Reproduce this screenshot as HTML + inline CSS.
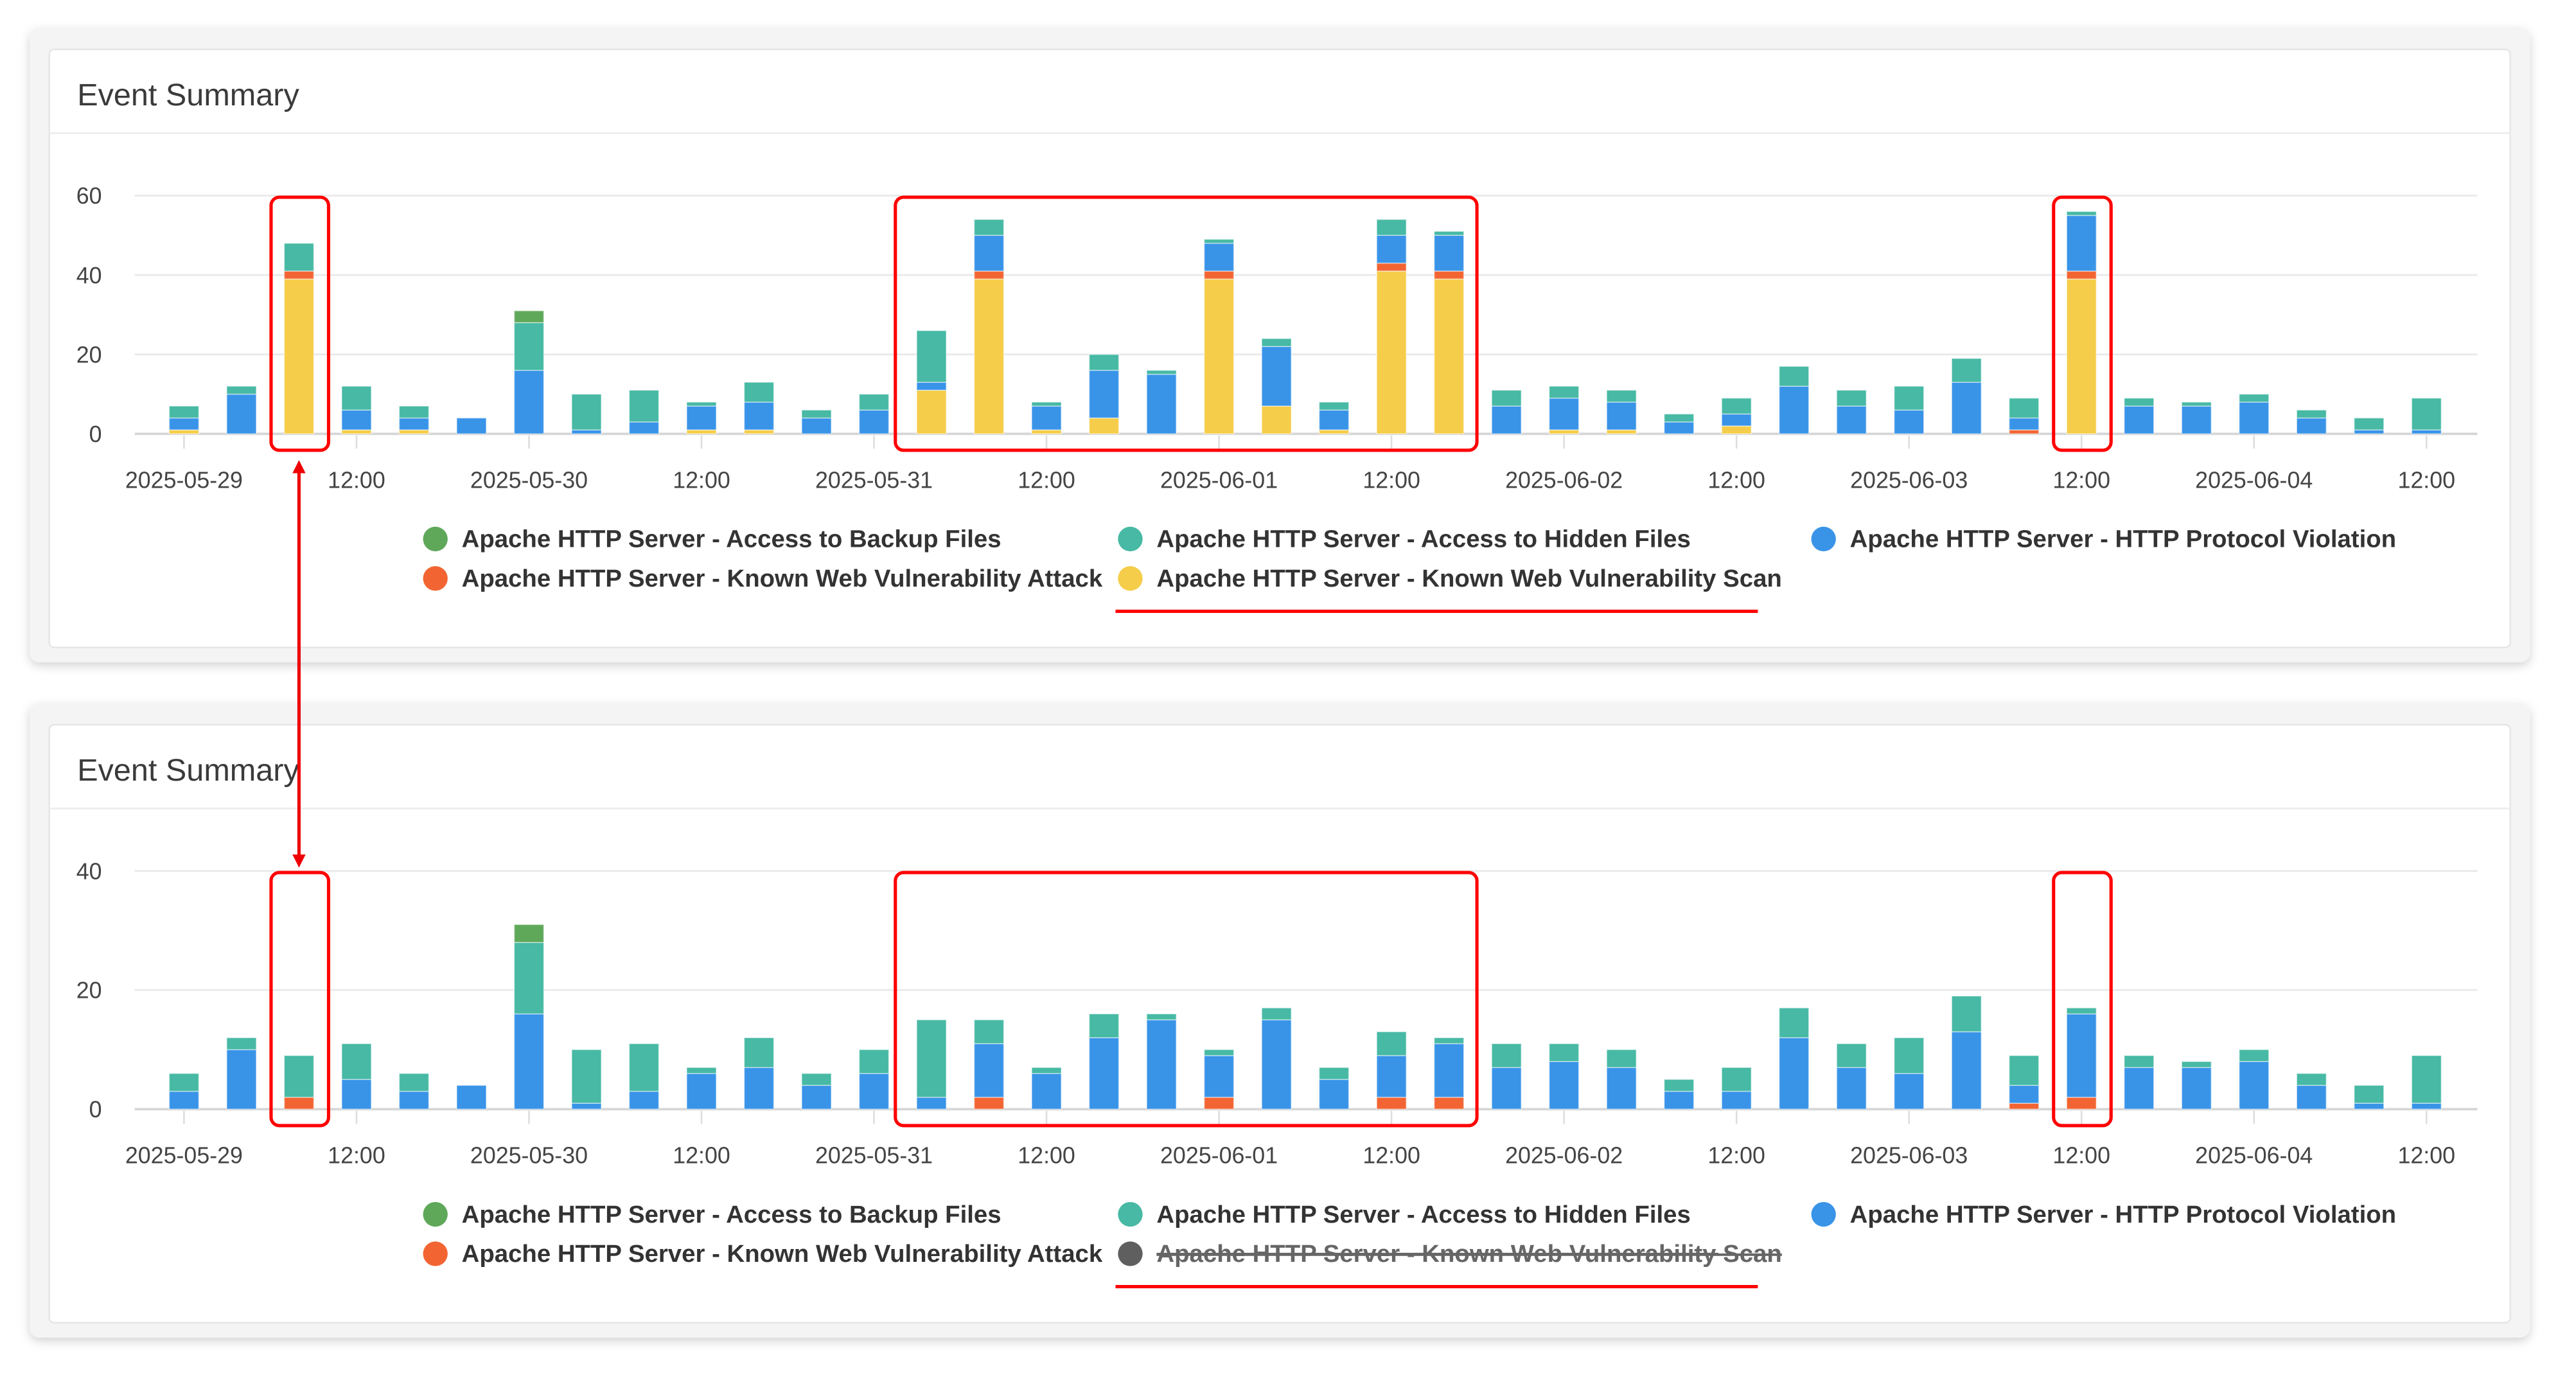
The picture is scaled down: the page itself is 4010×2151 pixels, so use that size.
<!DOCTYPE html>
<html><head><meta charset="utf-8"><style>
html,body{margin:0;padding:0;background:#fff;}
svg{display:block;font-family:"Liberation Sans",sans-serif;}
</style></head><body>
<svg id="root" width="4010" height="2151" viewBox="0 0 1568 841" xmlns="http://www.w3.org/2000/svg">
<defs>
<filter id="sh" x="-5%" y="-10%" width="110%" height="120%"><feDropShadow dx="0" dy="2" stdDeviation="3" flood-color="#000" flood-opacity="0.18"/></filter>
<marker id="ah" markerWidth="8" markerHeight="8" refX="4" refY="4" orient="auto-start-reverse" markerUnits="userSpaceOnUse"><path d="M0,0 L8,4 L0,8 z" fill="#e00"/></marker>
</defs>
<g id="panels"></g>
<g id="ann">
<rect x="165" y="120" width="35" height="154" rx="5" fill="none" stroke="#f00" stroke-width="2"/>
<rect x="545" y="120" width="354" height="154" rx="5" fill="none" stroke="#f00" stroke-width="2"/>
<rect x="1250" y="120" width="35" height="154" rx="5" fill="none" stroke="#f00" stroke-width="2"/>
<line x1="679" y1="372" x2="1070" y2="372" stroke="#f00" stroke-width="2"/>
<rect x="165" y="531" width="35" height="154" rx="5" fill="none" stroke="#f00" stroke-width="2"/>
<rect x="545" y="531" width="354" height="154" rx="5" fill="none" stroke="#f00" stroke-width="2"/>
<rect x="1250" y="531" width="35" height="154" rx="5" fill="none" stroke="#f00" stroke-width="2"/>
<line x1="679" y1="783" x2="1070" y2="783" stroke="#f00" stroke-width="2"/>
<line x1="182" y1="284" x2="182" y2="524" stroke="#e00" stroke-width="2" marker-start="url(#ah)" marker-end="url(#ah)"/>
</g>
</svg>
<script>
const categories = ["2025-05-29 00:00","04:00","08:00","12:00","16:00","20:00","2025-05-30 00:00","04:00","08:00","12:00","16:00","20:00","2025-05-31 00:00","04:00","08:00","12:00","16:00","20:00","2025-06-01 00:00","04:00","08:00","12:00","16:00","20:00","2025-06-02 00:00","04:00","08:00","12:00","16:00","20:00","2025-06-03 00:00","04:00","08:00","12:00","16:00","20:00","2025-06-04 00:00","04:00","08:00","12:00"];
const scanValues = [1,0,39,1,1,0,0,0,0,1,1,0,0,11,39,1,4,0,39,7,1,41,39,0,1,1,0,2,0,0,0,0,0,39,0,0,0,0,0,0];
const attackValues = [0,0,2,0,0,0,0,0,0,0,0,0,0,0,2,0,0,0,2,0,0,2,2,0,0,0,0,0,0,0,0,0,1,2,0,0,0,0,0,0];
const violationValues = [3,10,0,5,3,4,16,1,3,6,7,4,6,2,9,6,12,15,7,15,5,7,9,7,8,7,3,3,12,7,6,13,3,14,7,7,8,4,1,1];
const hiddenValues = [3,2,7,6,3,0,12,9,8,1,5,2,4,13,4,1,4,1,1,2,2,4,1,4,3,3,2,4,5,4,6,6,5,1,2,1,2,2,3,8];
const backupValues = [0,0,0,0,0,0,3,0,0,0,0,0,0,0,0,0,0,0,0,0,0,0,0,0,0,0,0,0,0,0,0,0,0,0,0,0,0,0,0,0];
const tickLabels = ["2025-05-29","12:00","2025-05-30","12:00","2025-05-31","12:00","2025-06-01","12:00","2025-06-02","12:00","2025-06-03","12:00","2025-06-04","12:00"];
const topYTicks = [0,20,40,60];
const bottomYTicks = [0,20,40];
const legendNames = ["Apache HTTP Server - Access to Backup Files","Apache HTTP Server - Access to Hidden Files","Apache HTTP Server - HTTP Protocol Violation","Apache HTTP Server - Known Web Vulnerability Attack","Apache HTTP Server - Known Web Vulnerability Scan"];

const NS="http://www.w3.org/2000/svg";
const COL={backup:"#5fa85a",hidden:"#47b9a4",violation:"#3994e8",attack:"#f26533",scan:"#f5cd4a"};
function mk(tag,attrs,parent){const e=document.createElementNS(NS,tag);for(const k in attrs)e.setAttribute(k,attrs[k]);parent.appendChild(e);return e;}
const root=document.getElementById('panels');

function panel(oy,yTicks,yMax,series,hiddenScan,nm){
  const g=mk('g',{},root);
  
  
  const outer=mk('rect',{x:18,y:oy-13,width:1522,height:386,rx:6,fill:'#f4f4f4',filter:'url(#sh)'},g);
  
  
  const card=mk('rect',{x:30,y:oy,width:1498,height:364,rx:3,fill:'#fff',stroke:'#e6e6e6'},g);
  
  
  const t=mk('text',{x:47,y:oy+34,'font-size':19,fill:'#3a3a3a'},g);t.textContent='Event Summary';
  
  
  mk('line',{x1:30,y1:oy+51,x2:1528,y2:oy+51,stroke:'#ececec'},g);
  const y0=oy+234, yTop=oy+89;
  const yS=v=>y0-(v/yMax)*(y0-yTop);
  const xS=i=>112+i*35;
  yTicks.forEach(v=>{
    const gl=mk('line',{x1:82,x2:1508,y1:yS(v),y2:yS(v),stroke:v===0?'#d6d6d6':'#e8e8e8','stroke-width':v===0?1.5:1},g);
    
    
    const tl=mk('text',{x:62,y:yS(v)+5,'font-size':14,fill:'#444','text-anchor':'end'},g);tl.textContent=v;
    
    
  });
  tickLabels.forEach((lb,k)=>{
    const x=xS(k*3);
    mk('line',{x1:x,x2:x,y1:y0+1,y2:y0+9,stroke:'#ddd'},g);
    const tl=mk('text',{x:x,y:y0+33,'font-size':14,fill:'#444','text-anchor':'middle'},g);tl.textContent=lb;
    
    
  });
  categories.forEach((c,i)=>{
    let acc=0;
    series.forEach(s=>{
      const v=s.vals[i]; if(!v) return;
      const yt=yS(acc+v), yb=yS(acc);
      const r=mk('rect',{x:xS(i)-9,y:yt,width:18,height:yb-yt,fill:s.col,stroke:'rgba(255,255,255,0.5)','stroke-width':0.6},g);
      
      
      acc+=v;
    });
  });
  const lx=[265,688,1110], ly=[oy+303,oy+327];
  const items=[{n:0,c:COL.backup},{n:1,c:COL.hidden},{n:2,c:COL.violation},{n:3,c:COL.attack},{n:4,c:hiddenScan?'#5f5f5f':COL.scan,off:hiddenScan}];
  items.forEach((it,k)=>{
    const col=k<3?k:k-3, row=k<3?0:1;
    const lg=mk('g',{},g);
    
    
    mk('circle',{cx:lx[col],cy:ly[row]-5,r:7.5,fill:it.c},lg);
    const tx=mk('text',{x:lx[col]+16,y:ly[row],'font-size':15,'font-weight':'bold',fill:it.off?'#666':'#333'},lg);
    tx.textContent=legendNames[it.n];
    if(it.off){tx.setAttribute('text-decoration','line-through');mk('line',{x1:lx[col]+16,x2:lx[col]+358,y1:ly[row]-5,y2:ly[row]-5,stroke:'#666','stroke-width':1.2},lg);}
  });
}
panel(30,topYTicks,60,[
  {key:'scan',vals:scanValues,col:COL.scan},
  {key:'attack',vals:attackValues,col:COL.attack},
  {key:'violation',vals:violationValues,col:COL.violation},
  {key:'hidden',vals:hiddenValues,col:COL.hidden},
  {key:'backup',vals:backupValues,col:COL.backup}],false,'top-chart-panel');
panel(441,bottomYTicks,40,[
  {key:'attack',vals:attackValues,col:COL.attack},
  {key:'violation',vals:violationValues,col:COL.violation},
  {key:'hidden',vals:hiddenValues,col:COL.hidden},
  {key:'backup',vals:backupValues,col:COL.backup}],true,'bottom-chart-panel');
</script>
</body></html>
